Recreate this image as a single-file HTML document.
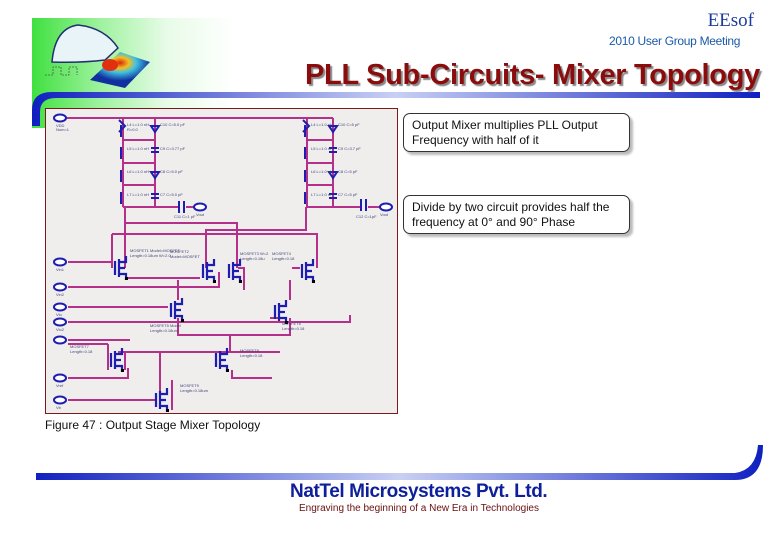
<!DOCTYPE html>
<html><head><meta charset="utf-8"><style>
body{margin:0;width:780px;height:540px;background:#fff;position:relative;overflow:hidden;font-family:"Liberation Sans",sans-serif}
.a{position:absolute}
.call{position:absolute;border:1px solid #333;border-radius:7px;background:#fff;box-shadow:3px 3px 2px #bbb;font-size:12px;color:#111;padding:4px 8px;line-height:15px;box-sizing:border-box}
</style></head><body>
<div class="a" style="left:32px;top:18px;width:270px;height:110px;background:linear-gradient(90deg,#3fe03f 0%,#9ef29e 25%,#e8fbe8 50%,#fff 75%)"></div>
<svg class="a" style="left:0;top:0" width="780" height="540">
<defs>
<linearGradient id="bg" x1="0" x2="1"><stop offset="0" stop-color="#1020c0"/><stop offset="0.5" stop-color="#c8d0f4"/><stop offset="1" stop-color="#1020c0"/></linearGradient>
<radialGradient id="hill" cx="0.5" cy="0.3"><stop offset="0" stop-color="#e02010"/><stop offset="0.3" stop-color="#f0c020"/><stop offset="0.55" stop-color="#40c0e0"/><stop offset="1" stop-color="#1030a0"/></radialGradient>
<g id="t" fill="none" stroke="#1d1db0" stroke-width="2.2"><path d="M-7,-7 v14 M-3,-9 v18 M-3,-6 h7 v-6 M-3,6 h7 v6 M-3,0 h6"/><rect x="3" y="9" width="3" height="3" fill="#000" stroke="none"/></g>
</defs>
<path d="M52,62 Q55,28 78,25 Q105,28 118,48 L105,60 Q80,63 52,62Z" fill="#e8f4f8" stroke="#203070" stroke-width="1.5"/>
<path d="M90,80 L120,52 L150,62 L125,88Z" fill="url(#hill)"/>
<ellipse cx="110" cy="65" rx="8" ry="6" fill="#e03010"/>
<path d="M45,75 h8 v-8 h8 v8 h8 v-8 h8 v8" fill="none" stroke="#555" stroke-width="0.8" stroke-dasharray="2,1"/>
<path d="M32,126 L32,110 Q32,92 52,92 L760,92 L760,98 L56,98 Q40,98 40,112 L40,126Z" fill="url(#bg)"/>
<path d="M36,473 L735,473 Q756,470 758,445 L763,445 Q763,480 735,480 L36,480Z" fill="url(#bg)"/>
<rect x="45.5" y="108.5" width="352" height="305" fill="#efeeed" stroke="#7a1a1a"/>
<g stroke="#b4308a" stroke-width="2" fill="none">
<path d="M62,118 H333 M123,118 V207 M155,118 V207 M307,118 V207 M333,118 V207"/>
<path d="M123,140 H155 M123,163 H155 M123,185 H155 M307,140 H333 M307,163 H333 M307,185 H333"/>
<path d="M123,207 H178 M186,207 H196 M307,207 H360 M368,207 H382"/>
<path d="M125,207 V223 H237 V268 M306,207 V230 H206 V268 M112,234 H317 V268 M112,234 V268"/>
<path d="M125,223 V268 M68,262 H112 M68,287 H219 V272 M68,307 H168 M68,322 H350 V315 M238,268 H244 V290 M292,268 H300 M128,278 H200 M178,280 V300 M290,280 V300"/>
<path d="M178,318 V335 H290 V318 M230,335 V352 M270,318 H285 M68,340 H130 M68,344 H108 M108,344 V370 M125,352 V370 M68,378 H128 V368 M118,352 H280 M232,370 V378 H272 M68,400 H155 M160,352 V408 M172,380 V410"/>
</g>
<g fill="none" stroke="#1d1db0" stroke-width="2">
<path d="M119,120 l6,6 l-6,6 M151,126 h8 l-4,6z M151,148 h8 M151,152 h8 M151,172 h8 l-4,6z M151,194 h8 M151,198 h8"/>
<path d="M303,120 l6,6 l-6,6 M329,126 h8 l-4,6z M329,148 h8 M329,152 h8 M329,172 h8 l-4,6z M329,194 h8 M329,198 h8"/>
<path d="M121,125 v12 M121,147 v12 M121,170 v12 M121,192 v12 M305,125 v12 M305,147 v12 M305,170 v12 M305,192 v12"/>
<path d="M179,201 v12 M184,201 v12 M361,199 v12 M366,199 v12"/>
</g>
<use href="#t" x="122" y="268"/><use href="#t" x="210" y="271"/><use href="#t" x="236" y="271"/><use href="#t" x="309" y="271"/>
<use href="#t" x="178" y="310"/><use href="#t" x="282" y="312"/><use href="#t" x="118" y="360"/><use href="#t" x="223" y="360"/><use href="#t" x="163" y="400"/>
<g fill="#fff" stroke="#1d1db0" stroke-width="2">
<ellipse cx="60" cy="118" rx="6" ry="3.5"/><ellipse cx="200" cy="207" rx="6" ry="3.5"/><ellipse cx="386" cy="207" rx="6" ry="3.5"/>
<ellipse cx="60" cy="262" rx="6" ry="3.5"/><ellipse cx="60" cy="287" rx="6" ry="3.5"/><ellipse cx="60" cy="307" rx="6" ry="3.5"/><ellipse cx="60" cy="322" rx="6" ry="3.5"/><ellipse cx="60" cy="340" rx="6" ry="3.5"/><ellipse cx="60" cy="378" rx="6" ry="3.5"/><ellipse cx="60" cy="400" rx="6" ry="3.5"/>
</g>
<g font-size="4" fill="#447" font-family="Liberation Sans">
<text x="56" y="127">VDD</text><text x="56" y="131">Num=1</text>
<text x="127" y="126">L4 L=1.0 nH</text><text x="127" y="131">R=0.0</text><text x="160" y="126">C10 C=5.0 pF</text>
<text x="127" y="150">L5 L=1.0 nH</text><text x="160" y="150">C9 C=3.77 pF</text>
<text x="127" y="173">L6 L=1.0 nH</text><text x="160" y="173">C8 C=5.0 pF</text>
<text x="127" y="196">L7 L=1.0 nH</text><text x="160" y="196">C7 C=5.0 pF</text>
<text x="311" y="126">L4 L=1.0 nH</text><text x="338" y="126">C10 C=5 pF</text>
<text x="311" y="150">L5 L=1.0 nH</text><text x="338" y="150">C9 C=3.7 pF</text>
<text x="311" y="173">L6 L=1.0 nH</text><text x="338" y="173">C8 C=5 pF</text>
<text x="311" y="196">L7 L=1.0 nH</text><text x="338" y="196">C7 C=5 pF</text>
<text x="174" y="218">C11 C=1 pF</text><text x="196" y="216">Vout</text><text x="356" y="218">C12 C=1pF</text><text x="380" y="216">Vout</text>
<text x="130" y="252">MOSFET1 Model=MOSFET</text><text x="130" y="257">Length=0.18um W=2.0</text>
<text x="170" y="253">MOSFET2</text><text x="170" y="258">Model=MOSFET</text>
<text x="240" y="255">MOSFET3 W=2</text><text x="240" y="260">Length=0.18u</text><text x="272" y="255">MOSFET4</text><text x="272" y="260">Length=0.18</text>
<text x="150" y="327">MOSFET5 Model</text><text x="150" y="332">Length=0.18um</text><text x="282" y="325">MOSFET6</text><text x="282" y="330">Length=0.18</text>
<text x="70" y="348">MOSFET7</text><text x="70" y="353">Length=0.18</text><text x="240" y="352">MOSFET8</text><text x="240" y="357">Length=0.18</text>
<text x="180" y="387">MOSFET9</text><text x="180" y="392">Length=0.18um</text>
<text x="56" y="271">Vin1</text><text x="56" y="296">Vin2</text><text x="56" y="316">Vlo</text><text x="56" y="331">Vlo2</text><text x="56" y="387">Vref</text><text x="56" y="409">Vb</text>
</g>
</svg>
<div class="a" style="right:26px;top:10px;font-family:'Liberation Serif',serif;font-size:19px;color:#1c3c9c">EEsof</div>
<div class="a" style="left:609px;top:34px;font-size:12px;color:#1a5aaa;letter-spacing:-0.3px">2010 User Group Meeting</div>
<div class="a" style="left:305px;top:59px;font-size:29px;font-weight:bold;color:#8a0c0c;text-shadow:2px 2px 1px #888;letter-spacing:-0.3px;white-space:nowrap">PLL Sub-Circuits- Mixer Topology</div>
<div class="call" style="left:403px;top:113px;width:227px;height:39px">Output Mixer multiplies PLL Output Frequency with half of it</div>
<div class="call" style="left:403px;top:195px;width:227px;height:39px">Divide by two circuit provides half the frequency at 0° and 90° Phase</div>
<div class="a" style="left:45px;top:418px;font-size:12px;color:#111;white-space:nowrap">Figure 47 : Output Stage Mixer Topology</div>
<div class="a" style="left:290px;top:481px;font-size:19px;font-weight:bold;color:#0d1f9a;letter-spacing:-0.4px;white-space:nowrap">NatTel Microsystems Pvt. Ltd.</div>
<div class="a" style="left:299px;top:503px;font-size:10px;color:#6a1010;white-space:nowrap">Engraving the beginning of a New Era in Technologies</div>
</body></html>
